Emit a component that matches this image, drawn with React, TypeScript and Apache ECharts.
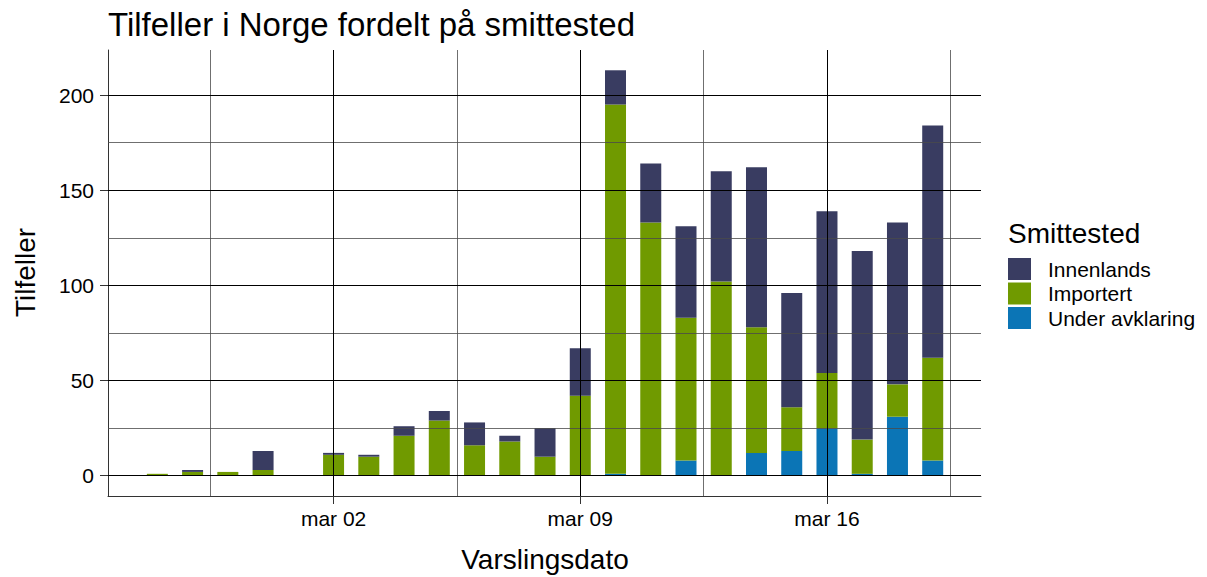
import React, { useEffect, useRef } from "react";
import * as echarts from "echarts";

// Reporting dates (one bar per day, 2020)
const dates = [
  "feb 26", "feb 27", "feb 28", "feb 29", "mar 01", "mar 02", "mar 03", "mar 04",
  "mar 05", "mar 06", "mar 07", "mar 08", "mar 09", "mar 10", "mar 11", "mar 12",
  "mar 13", "mar 14", "mar 15", "mar 16", "mar 17", "mar 18", "mar 19",
];

const innenlands = [0, 1, 0, 10, 0, 1, 1, 5, 5, 12, 3, 15, 25, 18, 31, 48, 58, 84, 60, 85, 99, 85, 122];
const importert = [1, 2, 2, 3, 0, 11, 10, 21, 29, 16, 18, 10, 42, 194, 133, 75, 102, 66, 23, 29, 18, 17, 54];
const underAvklaring = [0, 0, 0, 0, 0, 0, 0, 0, 0, 0, 0, 0, 0, 1, 0, 8, 0, 12, 13, 25, 1, 31, 8];

const xTickLabels = ["mar 02", "mar 09", "mar 16"];
const yTicks = [0, 50, 100, 150, 200];
const yMinorTicks = [25, 75, 125, 175];

const seriesNames = ["Under avklaring", "Importert", "Innenlands"];
const legendOrder = ["Innenlands", "Importert", "Under avklaring"];

const FONT = "'Liberation Sans', Arial, Helvetica, sans-serif";

export default function App() {
  const ref = useRef<HTMLDivElement>(null);

  useEffect(() => {
    if (!ref.current) return;
    const chart = echarts.init(ref.current, null, { renderer: "svg" });

    const idx = dates.map((_, i) => i);
    const majorX = xTickLabels.map((l) => dates.indexOf(l));
    const minorX = [...majorX.map((v) => v - 3.5), majorX[majorX.length - 1] + 3.5];

    const majorStyle = { color: "#000", width: 1, type: "solid" as const };
    const minorStyle = { color: "#4a4a4a", width: 0.8, type: "solid" as const };

    const gridLines = [
      ...minorX.map((v) => ({ xAxis: v, lineStyle: minorStyle })),
      ...yMinorTicks.map((v) => ({ yAxis: v, lineStyle: minorStyle })),
      ...majorX.map((v) => ({ xAxis: v, lineStyle: majorStyle })),
      ...yTicks.map((v) => ({ yAxis: v, lineStyle: majorStyle })),
    ];

    const colors: Record<string, string> = {
      Innenlands: "#393c61",
      Importert: "#709a00",
      "Under avklaring": "#0b75b6",
    };
    const values: Record<string, number[]> = {
      Innenlands: innenlands,
      Importert: importert,
      "Under avklaring": underAvklaring,
    };

    const series: any[] = seriesNames.map((name, si) => ({
      name,
      type: "bar",
      stack: "total",
      barWidth: 21,
      itemStyle: { color: colors[name] },
      emphasis: { disabled: true },
      // value first so that the stacked dimension is the y value
      encode: { x: 1, y: 0 },
      data: idx.map((i) => [values[name][i], i]),
      ...(si === seriesNames.length - 1
        ? {
            markLine: {
              silent: true,
              symbol: ["none", "none"],
              label: { show: false },
              emphasis: { disabled: true },
              animation: false,
              z: 5,
              data: gridLines,
            },
          }
        : {}),
    }));

    chart.setOption({
      animation: false,
      backgroundColor: "#ffffff",
      textStyle: { fontFamily: FONT },
      grid: { left: 108, right: 226, top: 50, bottom: 81, containLabel: false },
      xAxis: {
        type: "value",
        min: -1.4,
        max: 23.37,
        axisLine: { show: true, onZero: false, lineStyle: { color: "#333", width: 1 } },
        axisTick: { show: true, length: 8, customValues: majorX, lineStyle: { color: "#333" } },
        axisLabel: {
          show: true,
          customValues: majorX,
          margin: 12,
          fontSize: 21,
          color: "#000",
          fontFamily: FONT,
          formatter: (v: number) => dates[Math.round(v)] ?? "",
        },
        splitLine: { show: false },
      },
      yAxis: {
        type: "value",
        min: -10.65,
        max: 223.65,
        axisLine: { show: true, onZero: false, lineStyle: { color: "#333", width: 1 } },
        axisTick: { show: true, length: 8, customValues: yTicks, lineStyle: { color: "#333" } },
        axisLabel: {
          show: true,
          customValues: yTicks,
          margin: 14,
          fontSize: 21,
          color: "#000",
          fontFamily: FONT,
        },
        splitLine: { show: false },
      },
      legend: {
        data: legendOrder,
        orient: "vertical",
        left: 1008,
        top: 258,
        padding: 0,
        itemWidth: 23,
        itemHeight: 22,
        itemGap: 2.5,
        icon: "rect",
        selectedMode: false,
        textStyle: { fontSize: 21, color: "#000", fontFamily: FONT, padding: [0, 0, 0, 12] },
      },
      graphic: [
        {
          type: "text",
          x: 108,
          y: 24,
          style: {
            text: "Tilfeller i Norge fordelt på smittested",
            font: `33px ${FONT}`,
            fill: "#000",
            align: "left",
            verticalAlign: "middle",
          },
        },
        {
          type: "text",
          x: 545,
          y: 559.5,
          style: {
            text: "Varslingsdato",
            font: `28px ${FONT}`,
            fill: "#000",
            align: "center",
            verticalAlign: "middle",
          },
        },
        {
          type: "text",
          x: 25,
          y: 272.5,
          rotation: Math.PI / 2,
          style: {
            text: "Tilfeller",
            font: `28px ${FONT}`,
            fill: "#000",
            align: "center",
            verticalAlign: "middle",
          },
        },
        {
          type: "text",
          x: 1008,
          y: 233,
          style: {
            text: "Smittested",
            font: `28px ${FONT}`,
            fill: "#000",
            align: "left",
            verticalAlign: "middle",
          },
        },
      ],
      series,
    });

    return () => chart.dispose();
  }, []);

  return (
    <div
      ref={ref}
      style={{ position: "fixed", left: 0, top: 0, width: 1207, height: 577, background: "#fff" }}
    />
  );
}
